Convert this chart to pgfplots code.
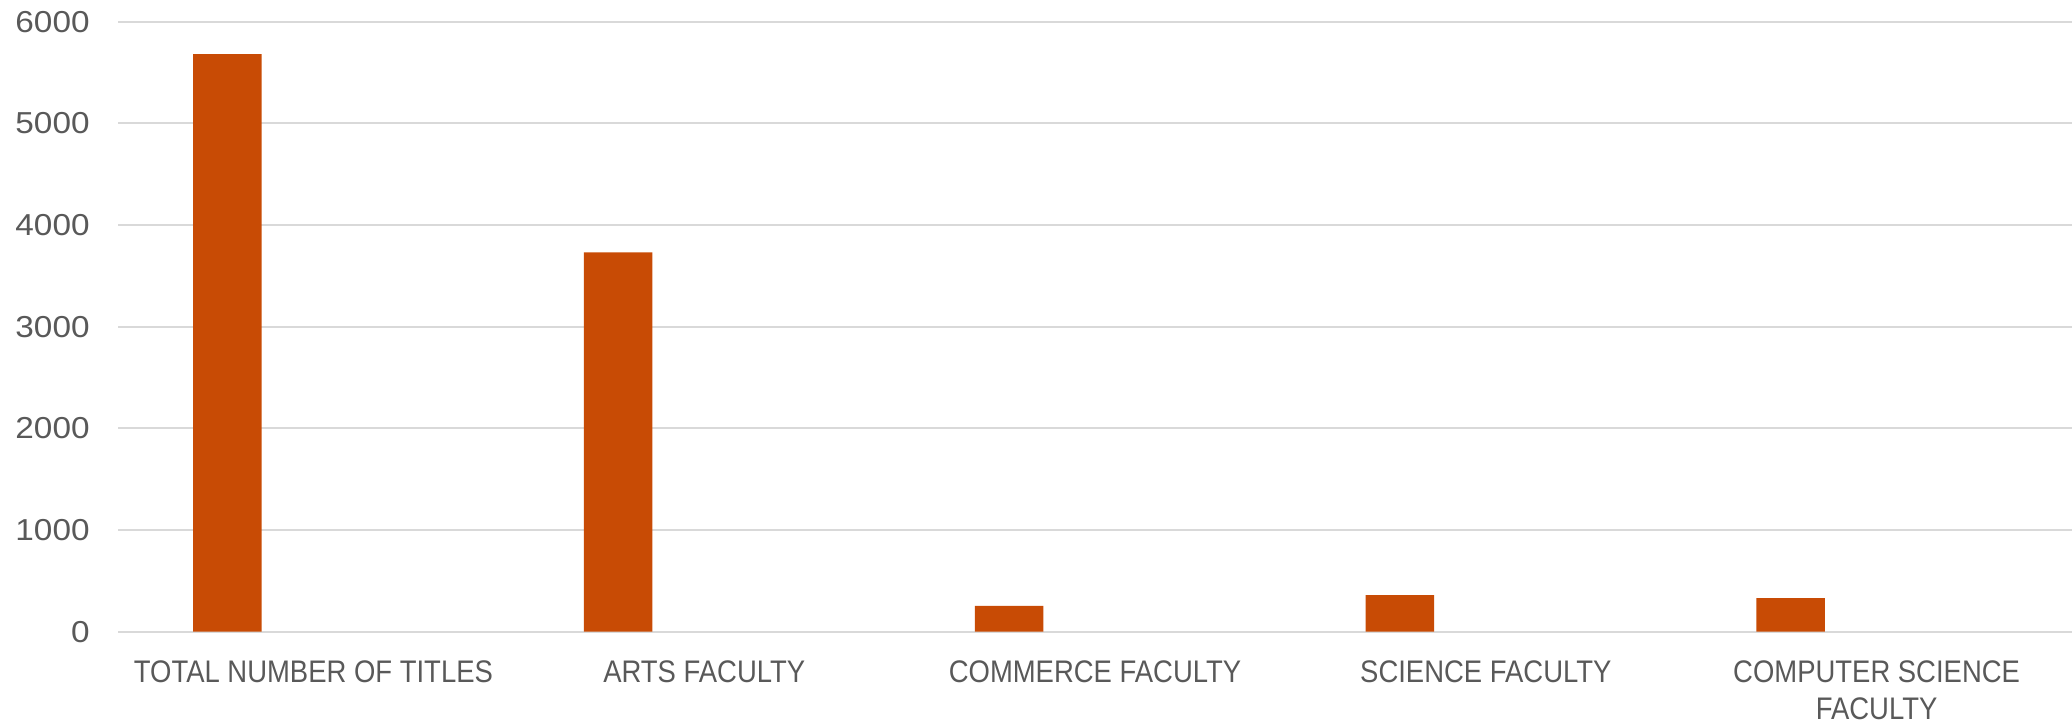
\documentclass[border=0pt]{standalone}
\usepackage{fontspec}
\usepackage{pgfplots}
\pgfplotsset{compat=1.18}
\setmainfont{Liberation Sans}
\newfontfamily\labelfont[FakeStretch=0.88]{Liberation Sans}
\newfontfamily\tickfont[FakeStretch=1.1]{Liberation Sans}
\definecolor{barc}{RGB}{200,75,5}
\definecolor{txt}{RGB}{89,89,89}
\definecolor{gridc}{RGB}{217,217,217}
\begin{document}
\begin{tikzpicture}
\useasboundingbox (0,0) rectangle (1036pt,362pt);
\begin{axis}[
  at={(59pt,46.15pt)}, anchor=south west,
  scale only axis,
  width=977pt, height=305pt,
  xmin=-0.5, xmax=4.5,
  ymin=0, ymax=6000,
  ytick={0,1000,2000,3000,4000,5000,6000},
  xtick={0,1,2,3,4},
  xticklabels={TOTAL NUMBER OF TITLES, ARTS FACULTY, COMMERCE FACULTY, SCIENCE FACULTY, {COMPUTER SCIENCE\\FACULTY}},
  ymajorgrids,
  grid style={gridc, line width=1pt},
  axis line style={draw=none},
  tick style={draw=none},
  yticklabel style={font=\tickfont\fontsize{15.15}{18}\selectfont, text=txt, anchor=east, inner sep=0pt, xshift=-14pt},
  xticklabel style={font=\labelfont\fontsize{15.6}{18.3}\selectfont, text=txt, anchor=north, align=center, inner sep=0pt, yshift=-10pt},
  scaled y ticks=false,
  /pgf/number format/assume math mode=true,
  /pgf/number format/1000 sep={},
  ybar, bar width=34.25pt, bar shift=-43pt,
  clip=false,
]
\addplot[fill=barc, draw=none] coordinates {(0,5682) (1,3732) (2,253) (3,361) (4,331)};
\end{axis}
\end{tikzpicture}
\end{document}
